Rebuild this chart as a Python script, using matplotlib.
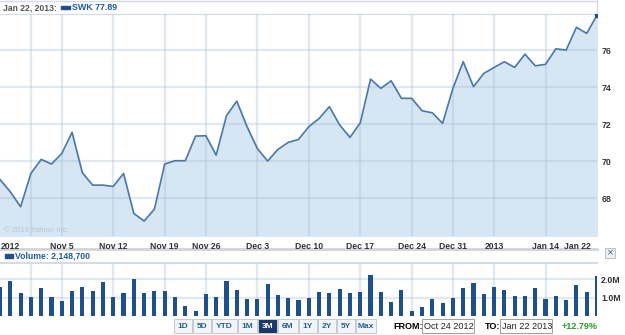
import matplotlib
matplotlib.use('Agg')
from matplotlib import pyplot as plt
from matplotlib.patches import Rectangle
from matplotlib.transforms import blended_transform_factory
import numpy as np

# closing prices, one per trading day Oct 24 2012 .. Jan 22 2013
prices = [69.00, 68.34, 67.53, 69.33, 70.09, 69.84, 70.41, 71.55, 69.37, 68.70,
          68.70, 68.63, 69.33, 67.17, 66.76, 67.40, 69.84, 70.02, 70.02, 71.35,
          71.37, 70.32, 72.45, 73.24, 71.86, 70.68, 70.00, 70.63, 71.01, 71.17,
          71.86, 72.30, 72.94, 71.95, 71.28, 72.07, 74.43, 73.93, 74.34, 73.39,
          73.39, 72.72, 72.61, 72.04, 73.93, 75.37, 74.02, 74.74, 75.06, 75.37,
          75.06, 75.78, 75.15, 75.23, 76.07, 76.00, 77.23, 76.90, 77.89]
# daily volume in millions
volumes = [1.55, 1.89, 1.22, 1.05, 1.53, 1.05, 0.80, 1.33, 1.56, 1.36,
           1.84, 1.02, 1.27, 2.00, 1.22, 1.36, 1.36, 1.05, 0.54, 0.29,
           1.18, 1.02, 1.89, 1.42, 0.91, 0.91, 1.71, 1.14, 0.95, 0.85,
           1.00, 1.31, 1.27, 1.44, 1.22, 1.31, 2.22, 1.31, 0.74, 1.40,
           0.29, 0.49, 0.92, 0.71, 0.96, 1.49, 1.78, 1.18, 1.56, 1.40,
           1.09, 1.09, 1.53, 0.92, 1.09, 0.84, 1.69, 1.31, 2.15]
grid_days = [3, 6, 11, 16, 20, 25, 30, 35, 40, 44, 48, 53]
label_days = [0, 6, 11, 16, 20, 25, 30, 35, 40, 44, 48, 53, 58]
label_text = ['2012', 'Nov 5', 'Nov 12', 'Nov 19', 'Nov 26', 'Dec 3', 'Dec 10',
              'Dec 17', 'Dec 24', 'Dec 31', '2013', 'Jan 14', 'Jan 22']
price_ticks = [68, 70, 72, 74, 76]
vol_ticks = [1.0, 2.0]
vol_tick_text = ['1.0M', '2.0M']
ranges = ['1D', '5D', 'YTD', '1M', '3M', '6M', '1Y', '2Y', '5Y', 'Max']

W, H = 625, 335
FONT = 'Liberation Sans'
LBL = '#333333'
BLUE = '#1f5089'
GRID = '#a9c0d6'

fig = plt.figure(figsize=(W / 100, H / 100), dpi=100)
days = np.arange(len(prices))

def px_axes(x0, y0, x1, y1):
    return fig.add_axes([x0 / W, 1 - y1 / H, (x1 - x0) / W, (y1 - y0) / H])

# price panel
ax = px_axes(0, 14, 597, 236)
ax.fill_between(days, prices, 60, color='#d6e6f2', zorder=1)
ax.plot(days, prices, color='#4b78a9', lw=1.2, zorder=4)
ax.plot(days[-1], prices[-1], 'o', ms=3, color='#1f5089', zorder=5)
ax.set_xlim(0, len(prices) - 1)
ax.set_ylim(65.95, 77.95)
ax.set_xticks(grid_days)
ax.set_xticklabels([])
ax.set_yticks(price_ticks)
ax.yaxis.tick_right()
ax.tick_params(length=0, pad=3)
ax.tick_params(axis='y', labelsize=6.3, labelcolor=LBL)
for t in ax.get_yticklabels():
    t.set_fontfamily(FONT)
    t.set_fontweight('bold')
ax.grid(True, color=GRID, alpha=0.35, lw=1.6, zorder=3)
for s in ['left', 'right', 'bottom']:
    ax.spines[s].set_visible(False)
ax.spines['top'].set_color('#d4dbe3')
ax.set_axisbelow(False)
ax.text(0.007, 0.02, '\u00a9 2013 Yahoo! Inc.', transform=ax.transAxes,
        fontsize=5.5, color='#b5c6d6', family=FONT, zorder=6)
tr = blended_transform_factory(ax.transData, ax.transAxes)
for d, t in zip(label_days, label_text):
    ha = 'left' if d == 0 else ('right' if d == len(prices) - 1 else 'center')
    xd = d + 0.1 if d == 0 else (d - 0.6 if ha == 'right' else d)
    ax.text(xd, -0.025, t, transform=tr, ha=ha, va='top', fontsize=6.2,
            fontweight='bold', color=LBL, family=FONT, clip_on=False)

# volume panel
av = px_axes(0, 263, 597, 316)
av.bar(days, volumes, width=0.4, color=BLUE, zorder=3)
av.set_xlim(0, len(prices) - 1)
av.set_ylim(0, 2.87)
av.set_xticks(grid_days)
av.set_xticklabels([])
av.set_yticks(vol_ticks)
av.set_yticklabels(vol_tick_text)
av.yaxis.tick_right()
av.tick_params(length=0, pad=3)
av.tick_params(axis='y', labelsize=6.3, labelcolor=LBL)
for t in av.get_yticklabels():
    t.set_fontfamily(FONT)
    t.set_fontweight('bold')
av.grid(True, color=GRID, alpha=0.35, lw=1.6, zorder=1)
for s in ['left', 'right', 'bottom']:
    av.spines[s].set_visible(False)
av.spines['top'].set_color('#d4dbe3')
av.spines['top'].set_linewidth(1.5)

# chrome drawn in pixel space
ov = fig.add_axes([0, 0, 1, 1], zorder=-1)
ov.set_xlim(0, W)
ov.set_ylim(H, 0)
ov.axis('off')
ov.plot([0, 597], [0.5, 0.5], color='#d4dbe3', lw=1)
ov.plot([596.5, 596.5], [0, 14], color='#d4dbe3', lw=1)
ov.plot([0, 597], [248.5, 248.5], color='#d0d4d8', lw=2)

top = fig.add_axes([0, 0, 1, 1], zorder=10)
top.set_xlim(0, W)
top.set_ylim(H, 0)
top.axis('off')
top.text(3, 7.5, 'Jan 22, 2013:', fontsize=6.2, fontweight='bold', color='#555555',
         family=FONT, va='center')
top.add_patch(Rectangle((61, 5.5), 9, 3.5, color=BLUE))
top.text(72, 7.5, 'SWK 77.89', fontsize=6.4, fontweight='bold', color='#1f5a96',
         family=FONT, va='center')
top.add_patch(Rectangle((5, 254), 8, 3.5, color=BLUE))
top.text(15, 255.5, 'Volume: 2,148,700', fontsize=6.2, fontweight='bold',
         color='#1f5a96', family=FONT, va='center')
top.add_patch(Rectangle((605, 248), 10, 10, facecolor='#eef1f4', edgecolor='#b0b8c0', lw=0.6))
top.text(610, 253, '\u00d7', fontsize=6, color='#555555', ha='center', va='center')

# range buttons
edges = [174, 193, 212, 238, 258, 278, 299, 318, 337, 356, 377]
for i, r in enumerate(ranges):
    x0, x1 = edges[i], edges[i + 1] - 1
    sel = r == '3M'
    top.add_patch(Rectangle((x0, 319), x1 - x0, 14,
                            facecolor='#1b3a68' if sel else '#f2f5f8',
                            edgecolor='#c3ccd6', lw=0.7))
    top.text((x0 + x1) / 2, 326.5, r, fontsize=6, fontweight='bold', family=FONT,
             color='white' if sel else '#2d5c8f', ha='center', va='center')
top.text(393, 326.5, 'FROM:', fontsize=6.5, fontweight='bold', family=FONT,
         color='black', va='center')
top.add_patch(Rectangle((422, 319), 52, 14, facecolor='white', edgecolor='#a0a0a0', lw=0.7))
top.text(424, 326.5, 'Oct 24 2012', fontsize=6.6, family=FONT, color='#222222', va='center')
top.text(485, 326.5, 'TO:', fontsize=6.5, fontweight='bold', family=FONT,
         color='black', va='center')
top.add_patch(Rectangle((500, 319), 52, 14, facecolor='white', edgecolor='#a0a0a0', lw=0.7))
top.text(502, 326.5, 'Jan 22 2013', fontsize=6.6, family=FONT, color='#222222', va='center')
top.text(562, 326.5, '+12.79%', fontsize=6.5, fontweight='bold', family=FONT,
         color='#2e9a2e', va='center')

fig.savefig('out.png', dpi=100)
